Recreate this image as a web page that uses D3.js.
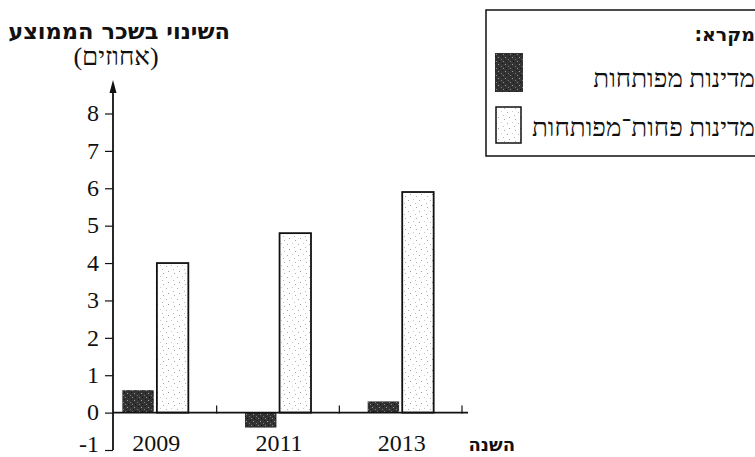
<!DOCTYPE html>
<html><head><meta charset="utf-8">
<script src="https://cdn.jsdelivr.net/npm/d3@7"></script>
<style>
html,body{margin:0;padding:0;background:#fff;}
svg{display:block;}
</style></head>
<body>
<svg id="c" width="755" height="457"></svg>
<script>
const years = ["2009", "2011", "2013"];
const developed = [0.6, -0.4, 0.3];
const developing = [4.0, 4.8, 5.9];
const yTicks = [-1, 0, 1, 2, 3, 4, 5, 6, 7, 8];
const seriesNames = ["מדינות מפותחות", "מדינות פחות־מפותחות"];
const titleText = "השינוי בשכר הממוצע";
const unitText = "(אחוזים)";
const xTitle = "השנה";
const legendTitle = "מקרא:";

const svg = d3.select("#c");
const serif = "'Liberation Serif','DejaVu Serif',serif";
const heb = "'Liberation Serif','DejaVu Sans',serif";
const hebBold = "'DejaVu Sans','Liberation Sans',sans-serif";

// patterns
const defs = svg.append("defs");
const pd = defs.append("pattern").attr("id","pDark").attr("patternUnits","userSpaceOnUse").attr("width",7).attr("height",7);
pd.append("rect").attr("width",7).attr("height",7).attr("fill","#333");
[[1,1,"#9a9a9a"],[4,3,"#777"],[2,5,"#111"],[5,0,"#1a1a1a"],[6,5,"#888"],[0,3,"#222"]].forEach(d=>
  pd.append("rect").attr("x",d[0]).attr("y",d[1]).attr("width",1).attr("height",1).attr("fill",d[2]));
const pl = defs.append("pattern").attr("id","pLight").attr("patternUnits","userSpaceOnUse").attr("width",11).attr("height",11);
pl.append("rect").attr("width",11).attr("height",11).attr("fill","#fff");
[[1,2,"#aaa"],[6,1,"#ccc"],[3,7,"#999"],[8,5,"#bbb"],[9,9,"#aaa"]].forEach(d=>
  pl.append("rect").attr("x",d[0]).attr("y",d[1]).attr("width",1).attr("height",1).attr("fill",d[2]));

const axisX = 113;
const y = d3.scaleLinear().domain([-1, 8]).range([450, 113.5]);
const x = d3.scaleBand().domain(years).range([94, 462]).padding(0);
const xs = d3.scaleBand().domain([0,1]).range([-33, 33]).paddingInner(0.09);

// bars
const g = svg.append("g");
years.forEach((yr, i) => {
  const c = x(yr) + x.bandwidth()/2;
  const v0 = developed[i];
  g.append("rect")
    .attr("x", c + xs(0)).attr("width", xs.bandwidth())
    .attr("y", y(Math.max(0, v0))).attr("height", Math.abs(y(v0) - y(0)))
    .attr("fill", "url(#pDark)");
  const v1 = developing[i];
  g.append("rect")
    .attr("x", c + xs(1)).attr("width", xs.bandwidth())
    .attr("y", y(Math.max(0, v1))).attr("height", Math.abs(y(v1) - y(0)))
    .attr("fill", "url(#pLight)").attr("stroke", "#111").attr("stroke-width", 1.8);
});

// y axis
const yAxis = d3.axisLeft(y).tickValues(yTicks).tickSize(8).tickPadding(6).tickFormat(d3.format("d"));
const ya = svg.append("g").attr("transform", `translate(${axisX},0)`).call(yAxis);
ya.select(".domain").remove();
ya.selectAll(".tick line").attr("stroke", "#111").attr("stroke-width", 1.2);
ya.selectAll(".tick text").attr("font-family", serif).attr("font-size", 24).attr("fill", "#111")
  .attr("dy", d => d < 0 ? "0.07em" : "0.3em")
  .text(d => d < 0 ? "-" + Math.abs(d) : d);
svg.append("line").attr("x1", axisX).attr("x2", axisX).attr("y1", y(-1)).attr("y2", 90)
  .attr("stroke", "#111").attr("stroke-width", 1.8);
svg.append("path").attr("d", `M${axisX},80 L${axisX-3.5},93 L${axisX+3.5},93 Z`).attr("fill", "#111");

// x axis baseline + separator ticks
svg.append("line").attr("x1", axisX).attr("x2", 468).attr("y1", y(0)).attr("y2", y(0))
  .attr("stroke", "#111").attr("stroke-width", 1.8);
years.forEach(yr => {
  const xx = x(yr) + x.bandwidth();
  svg.append("line").attr("x1", xx).attr("x2", xx).attr("y1", y(0) - 7).attr("y2", y(0) + 1)
    .attr("stroke", "#111").attr("stroke-width", 1.2);
});
// year labels
years.forEach(yr => {
  svg.append("text").attr("x", x(yr) + x.bandwidth()/2 + 1).attr("y", 451)
    .attr("text-anchor", "middle").attr("font-family", serif).attr("font-size", 24).attr("fill", "#111").text(yr);
});
svg.append("text").attr("x", 515).attr("y", 451).attr("direction", "rtl").attr("text-anchor", "start")
  .attr("font-family", hebBold).attr("font-weight", "bold").attr("font-size", 18).attr("fill", "#111").text(xTitle);

// titles
svg.append("text").attr("x", 230).attr("y", 39).attr("direction", "rtl").attr("text-anchor", "start")
  .attr("font-family", hebBold).attr("font-weight", "bold").attr("font-size", 22.5).attr("fill", "#111").text(titleText);
svg.append("text").attr("x", 116).attr("y", 65).attr("direction", "rtl").attr("text-anchor", "middle")
  .attr("font-family", heb).attr("font-size", 26).attr("fill", "#111").text(unitText);

// legend
svg.append("rect").attr("x", 486).attr("y", 10).attr("width", 300).attr("height", 146)
  .attr("fill", "none").attr("stroke", "#111").attr("stroke-width", 1.5);
svg.append("text").attr("x", 755).attr("y", 41).attr("direction", "rtl").attr("text-anchor", "start")
  .attr("font-family", hebBold).attr("font-weight", "bold").attr("font-size", 19).attr("fill", "#111").text(legendTitle);
svg.append("rect").attr("x", 495).attr("y", 53).attr("width", 28).attr("height", 39).attr("fill", "url(#pDark)");
svg.append("rect").attr("x", 496).attr("y", 107).attr("width", 25).attr("height", 36)
  .attr("fill", "url(#pLight)").attr("stroke", "#111").attr("stroke-width", 1.5);
svg.append("text").attr("x", 755).attr("y", 87).attr("direction", "rtl").attr("text-anchor", "start")
  .attr("font-family", heb).attr("font-size", 26).attr("fill", "#111").text(seriesNames[0]);
svg.append("text").attr("x", 755).attr("y", 136).attr("direction", "rtl").attr("text-anchor", "start")
  .attr("font-family", heb).attr("font-size", 26).attr("fill", "#111").text(seriesNames[1]);
</script>
</body></html>
